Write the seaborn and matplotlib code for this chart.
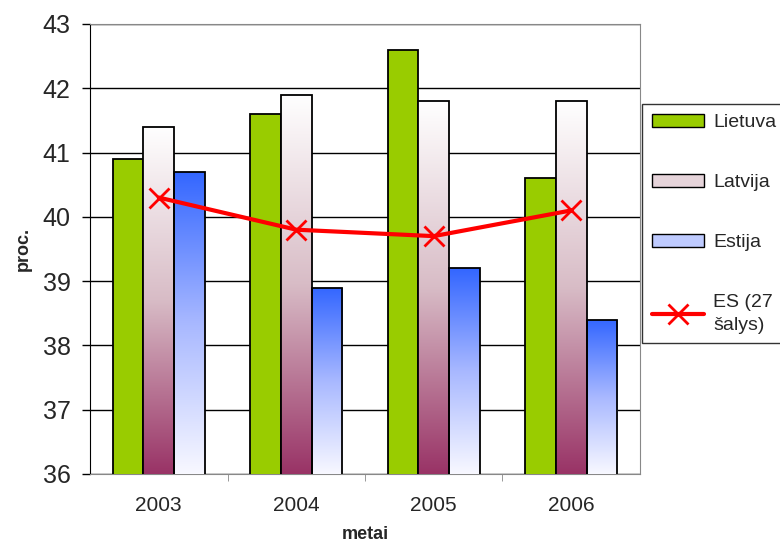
import numpy as np
import pandas as pd
import matplotlib
matplotlib.use("Agg")
import matplotlib.pyplot as plt
from matplotlib.colors import LinearSegmentedColormap
from matplotlib.patches import Patch
from matplotlib.lines import Line2D
import seaborn as sns

years = ["2003", "2004", "2005", "2006"]
lietuva = [40.9, 41.6, 42.6, 40.6]
latvija = [41.4, 41.9, 41.8, 41.8]
estija = [40.7, 38.9, 39.2, 38.4]
es27 = [40.3, 39.8, 39.7, 40.1]
countries = ["Lietuva", "Latvija", "Estija"]

df = pd.DataFrame({
    "metai": years * 3,
    "salis": np.repeat(countries, len(years)),
    "proc": lietuva + latvija + estija,
})

sns.set_style("white")
plt.rcParams["font.family"] = ["Liberation Sans", "DejaVu Sans"]

fig = plt.figure(figsize=(7.8, 5.44), dpi=100)
ax = fig.add_axes([0.1154, 0.1287, 0.7051, 0.8272])

sns.barplot(data=df, x="metai", y="proc", hue="salis", hue_order=countries,
            palette=["#99CC00", "#FFFFFF", "#3366FF"], saturation=1, width=0.67,
            edgecolor="black", linewidth=1.3, legend=False, ax=ax, zorder=3)

ymin, ymax = 36, 43
ax.set_ylim(ymin, ymax)
ax.set_xlim(-0.5, 3.5)

# gradient fills for Latvija and Estija bars
cm_lat = LinearSegmentedColormap.from_list("lat", ["#993366", "#D8BCC6", "#FFFFFF"])
cm_est = LinearSegmentedColormap.from_list("est", ["#F8F8FF", "#A8B8FF", "#3366FF"])
grad = np.linspace(0, 1, 256).reshape(-1, 1)

n = len(years)
for i, p in enumerate(ax.patches[:3 * n]):
    k = i // n
    if k == 0:
        continue
    cmap = cm_lat if k == 1 else cm_est
    x0, w, top = p.get_x(), p.get_width(), p.get_y() + p.get_height()
    im = ax.imshow(grad, extent=[x0, x0 + w, ymin, top], origin="lower",
                   aspect="auto", cmap=cmap, zorder=3.5)
    im.set_clip_path(p)
    p.set_facecolor("none")
    p.set_zorder(4)

ax.set_ylim(ymin, ymax)
ax.set_xlim(-0.5, 3.5)

sns.lineplot(x=np.arange(n), y=es27, color="#FF0000", linewidth=3, marker="x",
             markersize=15, markeredgewidth=2, markeredgecolor="#FF0000",
             ax=ax, zorder=6)

ax.set_yticks(range(36, 44))
ax.yaxis.grid(True, color="black", linewidth=1)
ax.set_axisbelow(True)
for s in ["top", "right"]:
    ax.spines[s].set_color("#888888")
ax.spines["left"].set_color("black")
ax.spines["bottom"].set_color("#888888")
ax.tick_params(axis="y", labelsize=18, length=6, width=1, color="black", left=True,
               direction="out", pad=8)
ax.tick_params(axis="x", labelsize=15, length=0, pad=16)
ax.set_xticks([0.5, 1.5, 2.5], minor=True)
ax.tick_params(axis="x", which="minor", length=5, color="#888888", bottom=True)

ax.set_xlabel("metai", fontsize=13, fontweight="bold", labelpad=8)
ax.set_ylabel("proc.", fontsize=13, fontweight="bold", labelpad=8)

handles = [
    Patch(facecolor="#99CC00", edgecolor="black"),
    Patch(facecolor="#E6D4DA", edgecolor="black"),
    Patch(facecolor="#BFCBFF", edgecolor="black"),
    Line2D([], [], color="#FF0000", linewidth=3, marker="x", markersize=14, markeredgewidth=2),
]
labels = ["Lietuva", "Latvija", "Estija", "ES (27\nšalys)"]
leg = fig.legend(handles, labels, loc="upper left", bbox_to_anchor=(0.8231, 0.809),
                 fontsize=14, frameon=True, fancybox=False, edgecolor="black",
                 borderpad=0.5, labelspacing=2.2, handlelength=2.7, handleheight=0.65,
                 handletextpad=0.45, borderaxespad=0)
leg.get_frame().set_linewidth(1)
leg.get_texts()[3].set_linespacing(1.45)

fig.savefig("out.png", dpi=100)
